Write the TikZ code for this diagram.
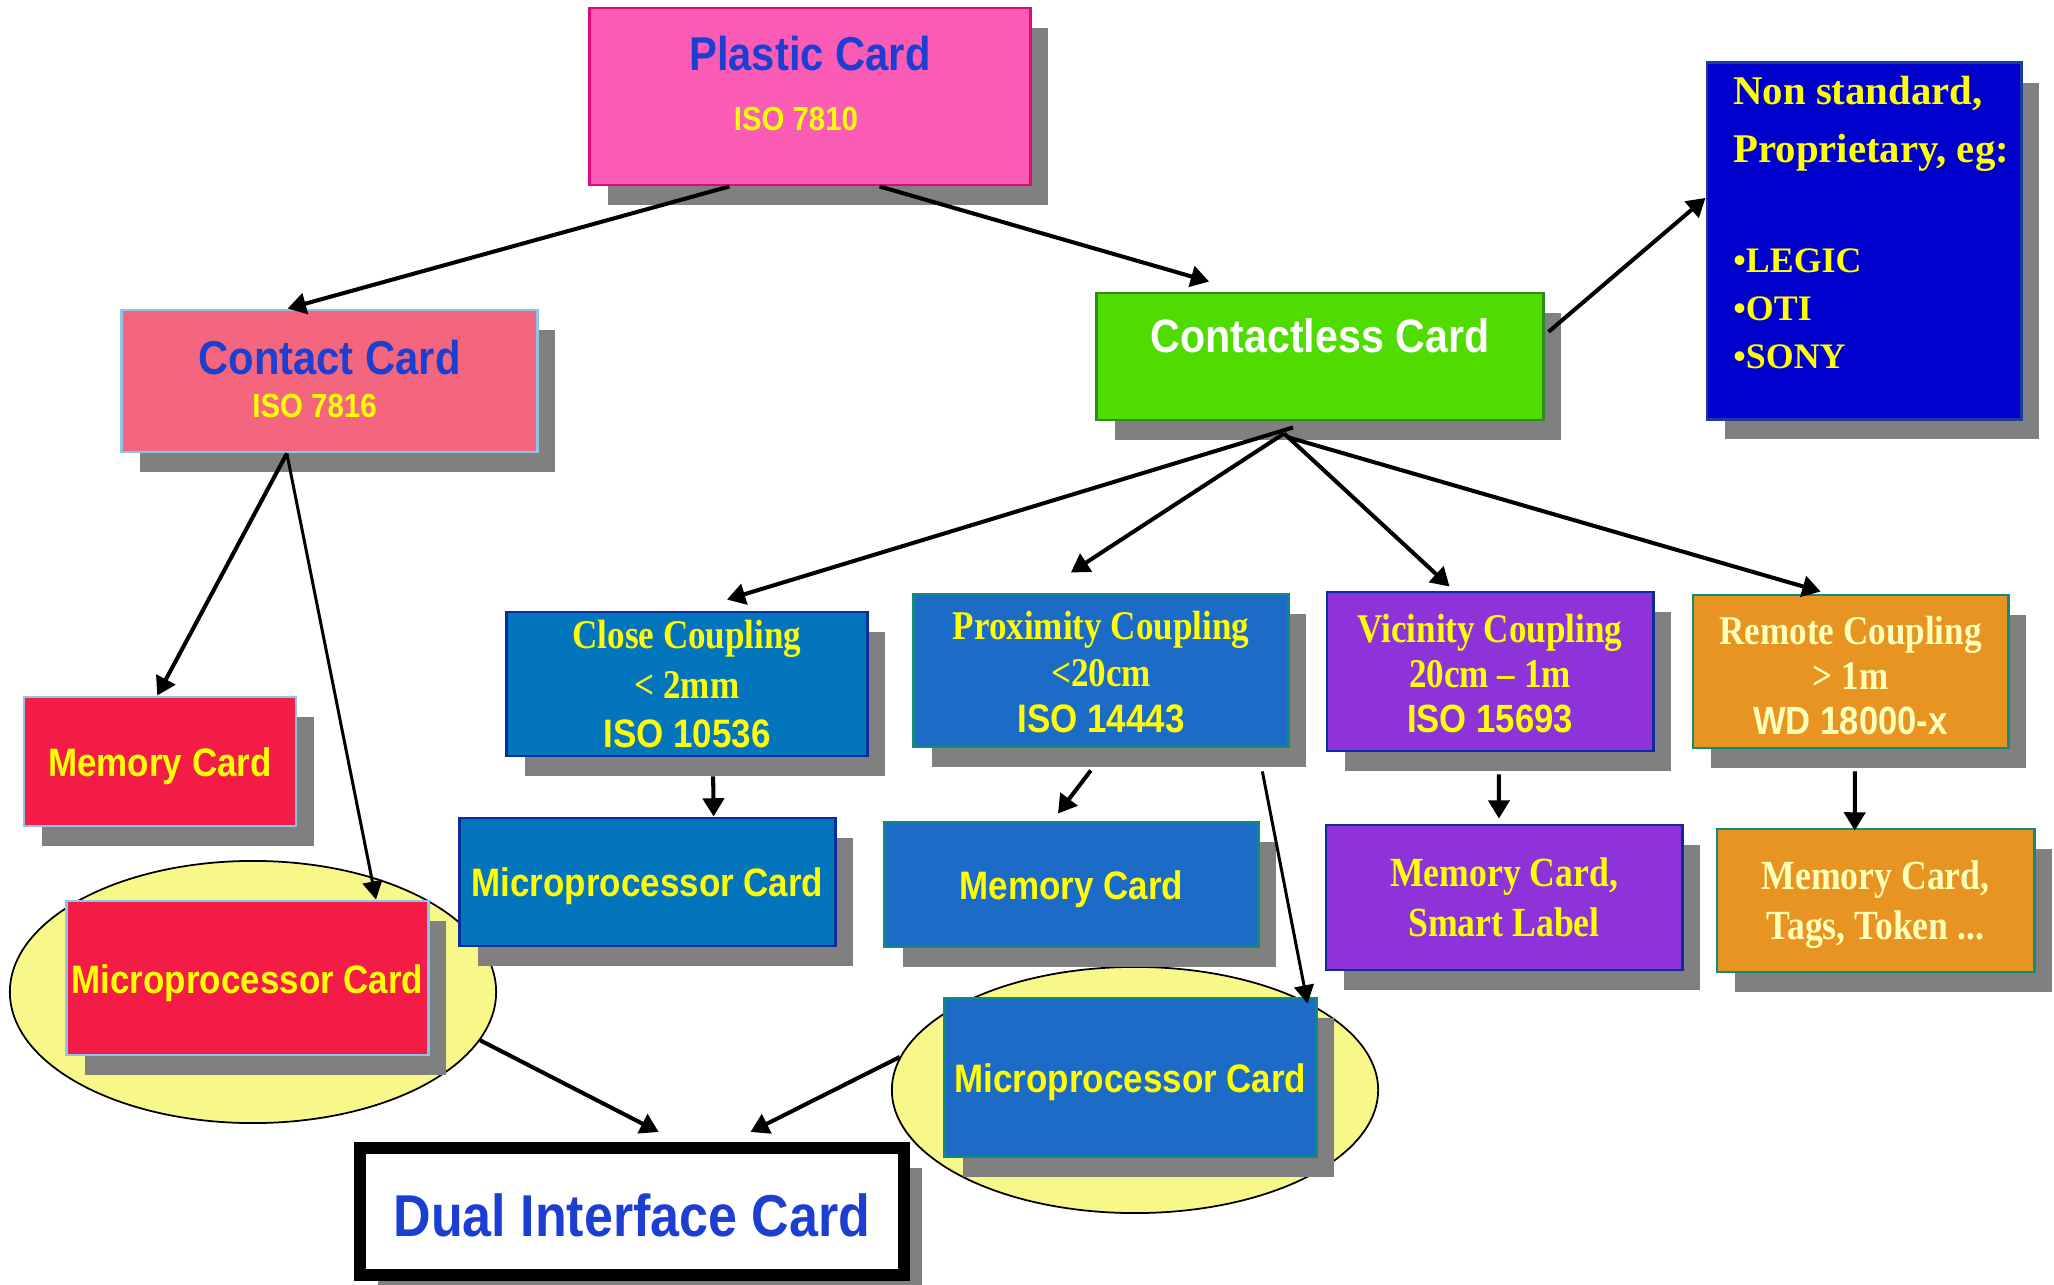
\documentclass[tikz,border=0pt]{standalone}
\usepackage{fontspec}
\usetikzlibrary{shadows,arrows.meta,calc,shapes.geometric}
\newfontfamily\sfc[FakeStretch=0.88]{Liberation Sans}
\newfontfamily\rmc[FakeStretch=0.86]{Liberation Serif}
\newfontfamily\rmn{Liberation Serif}
\newcommand{\rtxt}[2]{\raisebox{#1}[0pt][0pt]{#2}}
\definecolor{plasticfill}{HTML}{F95BB5}
\definecolor{plasticdraw}{HTML}{E0087A}
\definecolor{txtblue}{HTML}{1C3FD2}
\definecolor{contactfill}{HTML}{F4667E}
\definecolor{ltblue}{HTML}{8FC4E8}
\definecolor{cgreen}{HTML}{50DC00}
\definecolor{cgreendraw}{HTML}{2E8B1E}
\definecolor{nsfill}{HTML}{0000CC}
\definecolor{nsdraw}{HTML}{1A3C9E}
\definecolor{closefill}{HTML}{0275BD}
\definecolor{dkblue}{HTML}{0A2C9C}
\definecolor{proxfill}{HTML}{1B6BC7}
\definecolor{tealb}{HTML}{138A7E}
\definecolor{vicfill}{HTML}{8E33D9}
\definecolor{remfill}{HTML}{E89422}
\definecolor{redfill}{HTML}{F21C46}
\definecolor{ellfill}{HTML}{F8F88A}
\definecolor{shgray}{HTML}{808080}
\definecolor{cream}{HTML}{FFFFB8}
\definecolor{yel}{HTML}{FFFF00}
\begin{document}
\begin{tikzpicture}[x=0.01cm,y=-0.01cm,
  box/.style={draw, line width=0.8pt, inner sep=0pt,
    drop shadow={shadow xshift=0.18cm, shadow yshift=-0.2cm, fill=shgray, opacity=1}},
  arr/.style={-{Triangle[length=5.2pt,width=6pt]}, line width=1.15pt},
  thinarr/.style={-{Triangle[length=5.2pt,width=5.6pt]}, line width=0.85pt},
  ell/.style={ellipse, draw=black, line width=0.5pt, fill=ellfill, inner sep=0pt},
]
\useasboundingbox (0,0) rectangle (2054,1285);

% ellipses (behind)
\node[ell, minimum width=4.86cm, minimum height=2.62cm] (ellL) at (253,992) {};
\node[ell, minimum width=4.86cm, minimum height=2.46cm] (ellR) at (1135,1090) {};

% top level
\node[box, draw=plasticdraw, fill=plasticfill, minimum width=4.40cm, minimum height=1.77cm] (plastic) at (810,96.5)
  {\rtxt{-1.3pt}{\sfc\bfseries\fontsize{13.5}{17.3}\selectfont\begin{tabular}{@{}c@{}}\color{txtblue}Plastic Card\\ \fontsize{9.5}{17.3}\selectfont\color{yel}ISO 7810\hspace*{8pt}\end{tabular}}};

\node[box, draw=ltblue, fill=contactfill, minimum width=4.15cm, minimum height=1.42cm] (contact) at (329.5,381)
  {\rtxt{-4.34pt}{\sfc\bfseries\fontsize{13.5}{17.3}\selectfont\begin{tabular}{@{}c@{}}\color{txtblue}Contact Card\\[-5.1pt]\fontsize{9.5}{17.3}\selectfont\color{yel}ISO 7816\hspace*{8.5pt}\end{tabular}}};

\node[box, draw=cgreendraw, fill=cgreen, minimum width=4.46cm, minimum height=1.27cm] (contactless) at (1320,356.5)
  {\rtxt{1pt}{\sfc\bfseries\fontsize{13.3}{16}\selectfont\color{white}Contactless Card}};

\node[box, draw=nsdraw, fill=nsfill, minimum width=3.14cm, minimum height=3.56cm] (nonstd) at (1864,241)
  {\rtxt{1pt}{\makebox[74.3pt][l]{\rmn\bfseries\fontsize{11.6}{13.6}\selectfont\color{yel}\begin{tabular}{@{}l@{}}Non standard,\\[2.8pt]Proprietary, eg:\\[17.6pt]\fontsize{10.2}{13.6}\selectfont •LEGIC\\\fontsize{10.2}{13.6}\selectfont •OTI\\\fontsize{10.2}{13.6}\selectfont •SONY\end{tabular}}}};

% coupling boxes
\node[box, draw=dkblue, fill=closefill, minimum width=3.60cm, minimum height=1.44cm] (close) at (687,684)
  {\rtxt{-4.2pt}{\color{yel}\rmc\bfseries\fontsize{11.6}{14}\selectfont\begin{tabular}{@{}c@{}}Close Coupling\\< 2mm\\\sfc\fontsize{11.3}{14}\selectfont ISO 10536\end{tabular}}};

\node[box, draw=tealb, fill=proxfill, minimum width=3.74cm, minimum height=1.53cm] (prox) at (1101,670.5)
  {\rtxt{-4.8pt}{\color{yel}\rmc\bfseries\fontsize{11.6}{13.2}\selectfont\begin{tabular}{@{}c@{}}Proximity Coupling\\<20cm\\\sfc\fontsize{11.3}{13.2}\selectfont ISO 14443\end{tabular}}};

\node[box, draw=dkblue, fill=vicfill, minimum width=3.26cm, minimum height=1.59cm] (vic) at (1490,671.5)
  {\rtxt{-5.0pt}{\color{yel}\rmc\bfseries\fontsize{11.6}{12.8}\selectfont\begin{tabular}{@{}c@{}}Vicinity Coupling\\20cm – 1m\\\sfc\fontsize{11.2}{12.8}\selectfont ISO 15693\end{tabular}}};

\node[box, draw=tealb, fill=remfill, minimum width=3.15cm, minimum height=1.53cm] (remote) at (1850.5,671.5)
  {\rtxt{-5.6pt}{\color{cream}\rmc\bfseries\fontsize{11.6}{12.8}\selectfont\begin{tabular}{@{}c@{}}Remote Coupling\\> 1m\\\sfc\fontsize{11.2}{12.8}\selectfont WD 18000-x\end{tabular}}};

% leaf cards
\node[box, draw=ltblue, fill=redfill, minimum width=2.72cm, minimum height=1.29cm] (memL) at (160,761.5)
  {\rtxt{-4.4pt}{\sfc\bfseries\fontsize{11.3}{13}\selectfont\color{yel}Memory Card}};

\node[box, draw=ltblue, fill=redfill, minimum width=3.61cm, minimum height=1.54cm] (microL) at (247.5,978)
  {\rtxt{-4.5pt}{\sfc\bfseries\fontsize{11.3}{13}\selectfont\color{yel}Microprocessor Card}};

\node[box, draw=dkblue, fill=closefill, minimum width=3.75cm, minimum height=1.28cm] (microC) at (647.5,882)
  {\rtxt{-4.25pt}{\sfc\bfseries\fontsize{11.3}{13}\selectfont\color{yel}Microprocessor Card}};

\node[box, draw=tealb, fill=proxfill, minimum width=3.73cm, minimum height=1.25cm] (memP) at (1071.5,884.5)
  {\rtxt{-4.4pt}{\sfc\bfseries\fontsize{11.3}{13}\selectfont\color{yel}Memory Card}};

\node[box, draw=dkblue, fill=vicfill, minimum width=3.56cm, minimum height=1.45cm] (smart) at (1504,897.5)
  {\rtxt{-4.2pt}{\color{yel}\rmc\bfseries\fontsize{11.8}{14.2}\selectfont\begin{tabular}{@{}c@{}}Memory Card,\\Smart Label\end{tabular}}};

\node[box, draw=tealb, fill=remfill, minimum width=3.17cm, minimum height=1.43cm] (tags) at (1875.5,900.5)
  {\rtxt{-4.2pt}{\color{cream}\rmc\bfseries\fontsize{11.8}{14.2}\selectfont\begin{tabular}{@{}c@{}}Memory Card,\\Tags, Token ...\end{tabular}}};

\node[box, draw=tealb, fill=proxfill, minimum width=3.71cm, minimum height=1.59cm] (microB) at (1130.5,1077.5)
  {\rtxt{-4.4pt}{\sfc\bfseries\fontsize{11.3}{13}\selectfont\color{yel}Microprocessor Card}};

\node[box, draw=black, fill=white, line width=3.4pt, minimum width=5.44cm, minimum height=1.27cm] (dual) at (632,1211.5)
  {\rtxt{-7.2pt}{\sfc\bfseries\fontsize{16.8}{20}\selectfont\color{txtblue}Dual Interface Card}};

% connectors
\draw[arr] ($(plastic.south west)!0.318!(plastic.south east)$) -- ($(contact.north west)!0.40!(contact.north east)$);
\draw[arr] ($(plastic.south west)!0.657!(plastic.south east)$) -- ($(contactless.north west)!0.253!(contactless.north east)+(0,-10)$);
\draw[arr] ($(contact.south west)!0.398!(contact.south east)$) -- ($(memL.north west)!0.49!(memL.north east)$);
\draw[thinarr] ($(contact.south west)!0.398!(contact.south east)$) -- ($(microL.north west)!0.853!(microL.north east)$);
\draw[arr] ($(contactless.north east)!0.31!(contactless.south east)+(4,0)$) -- ($(nonstd.north west)!0.38!(nonstd.south west)$);
\draw[arr] ($(contactless.south west)!0.44!(contactless.south east)+(0,6)$) -- ($(close.north west)!0.61!(close.north east)+(0,-11)$);
\draw[arr] ($(contactless.south west)!0.42!(contactless.south east)+(0,12)$) -- ($(prox.north west)!0.42!(prox.north east)+(0,-20)$);
\draw[arr] ($(contactless.south west)!0.42!(contactless.south east)+(0,12)$) -- ($(vic.north west)!0.377!(vic.north east)+(0,-4)$);
\draw[arr] ($(contactless.south west)!0.43!(contactless.south east)+(0,16)$) -- ($(remote.north west)!0.406!(remote.north east)+(0,-2)$);
\draw[arr] ($(close.south west)!0.572!(close.south east)+(0,19)$) -- ($(microC.north west)!0.675!(microC.north east)$);
\draw[arr] ($(prox.south west)!0.473!(prox.south east)+(0,22)$) -- ($(memP.north west)!0.464!(memP.north east)+(0,-7)$);
\draw[thinarr] ($(prox.south west)!0.928!(prox.south east)+(0,23)$) -- ($(microB.north east)+(-10,7)$);
\draw[arr] ($(vic.south west)!0.527!(vic.south east)+(0,22)$) -- ($(smart.north west)!0.486!(smart.north east)+(0,-5)$);
\draw[arr] ($(remote.south west)!0.514!(remote.south east)+(0,22)$) -- ($(tags.north west)!0.435!(tags.north east)+(0,3)$);
\draw[arr] (ellL.-12) -- ($(dual.north west)!0.548!(dual.north east)+(0,-10)$);
\draw[arr] (ellR.172) -- ($(dual.north west)!0.713!(dual.north east)+(0,-10)$);
\end{tikzpicture}
\end{document}
